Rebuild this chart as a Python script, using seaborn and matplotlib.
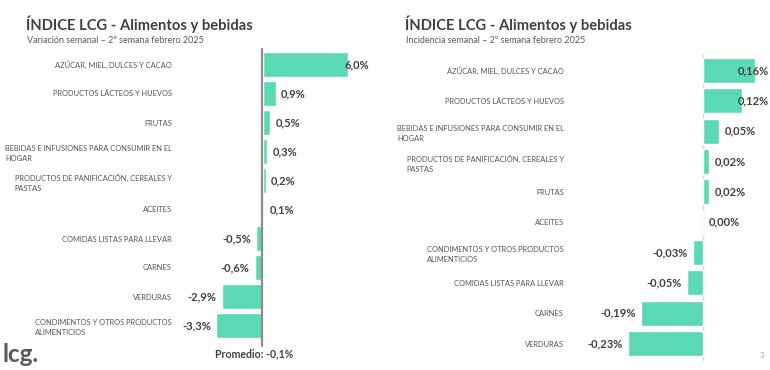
import matplotlib
matplotlib.use("Agg")
import matplotlib.pyplot as plt
import seaborn as sns
import pandas as pd

# ---------------- data ----------------
cats_left = [
    "AZÚCAR, MIEL, DULCES Y CACAO",
    "PRODUCTOS LÁCTEOS Y HUEVOS",
    "FRUTAS",
    "BEBIDAS E INFUSIONES PARA CONSUMIR EN EL\nHOGAR",
    "PRODUCTOS DE PANIFICACIÓN, CEREALES Y\nPASTAS",
    "ACEITES",
    "COMIDAS LISTAS PARA LLEVAR",
    "CARNES",
    "VERDURAS",
    "CONDIMENTOS Y OTROS PRODUCTOS\nALIMENTICIOS",
]
vals_left = [6.0, 0.9, 0.5, 0.3, 0.2, 0.1, -0.5, -0.6, -2.9, -3.3]
labels_left = ["6,0%", "0,9%", "0,5%", "0,3%", "0,2%", "0,1%", "-0,5%", "-0,6%", "-2,9%", "-3,3%"]
promedio = -0.1
promedio_label = "Promedio: -0,1%"

cats_right = [
    "AZÚCAR, MIEL, DULCES Y CACAO",
    "PRODUCTOS LÁCTEOS Y HUEVOS",
    "BEBIDAS E INFUSIONES PARA CONSUMIR EN EL\nHOGAR",
    "PRODUCTOS DE PANIFICACIÓN, CEREALES Y\nPASTAS",
    "FRUTAS",
    "ACEITES",
    "CONDIMENTOS Y OTROS PRODUCTOS\nALIMENTICIOS",
    "COMIDAS LISTAS PARA LLEVAR",
    "CARNES",
    "VERDURAS",
]
vals_right = [0.16, 0.12, 0.05, 0.02, 0.02, 0.00, -0.03, -0.05, -0.19, -0.23]
labels_right = ["0,16%", "0,12%", "0,05%", "0,02%", "0,02%", "0,00%", "-0,03%", "-0,05%", "-0,19%", "-0,23%"]

title_text = "ÍNDICE LCG - Alimentos y bebidas"
subtitle_left = "Variación semanal – 2º semana febrero 2025"
subtitle_right = "Incidencia semanal – 2º semana febrero 2025"

# ---------------- style ----------------
sns.set_theme(style="white")
plt.rcParams["font.family"] = ["Lato", "DejaVu Sans"]

BAR = "#5BD9B4"
DARK = "#404040"
MID = "#595959"

W, H = 770, 370
fig = plt.figure(figsize=(W / 100, H / 100), dpi=100)


def px_axes(x0, y0, x1, y1):
    return fig.add_axes([x0 / W, 1 - y1 / H, (x1 - x0) / W, (y1 - y0) / H])


axL = px_axes(176, 50, 370, 340)
axR = px_axes(568, 55.3, 770, 358.7)

dfL = pd.DataFrame({"cat": cats_left, "val": vals_left})
dfR = pd.DataFrame({"cat": cats_right, "val": vals_right})

sns.barplot(data=dfL, y="cat", x="val", orient="h", color=BAR, width=0.86,
            saturation=1, ax=axL, zorder=2)
sns.barplot(data=dfR, y="cat", x="val", orient="h", color=BAR, width=0.82,
            saturation=1, ax=axR, zorder=2)

axL.set_xlim(-6.14, 7.55)
axR.set_xlim(-0.415, 0.206)

for ax in (axL, axR):
    ax.set_ylim(9.5, -0.5)
    ax.set_xlabel("")
    ax.set_ylabel("")
    ax.set_xticks([])
    for s in ax.spines.values():
        s.set_visible(False)
    ax.tick_params(axis="y", length=0, pad=3, labelsize=5.4, labelcolor="#555555")
    ax.patch.set_alpha(0)
    for t in ax.get_yticklabels():
        t.set_multialignment("left")
        t.set_linespacing(1.5)

# promedio line (left) and zero line (right)
axL.axvline(promedio, ymin=-0.02, ymax=1.003, color="#8c8c8c", lw=1.6,
            zorder=3, clip_on=False)
axR.axvline(0, ymin=-0.004, ymax=1.0, color="#d9d9d9", lw=1.0, zorder=1,
            clip_on=False)

# value labels
fig.canvas.draw()
renderer = fig.canvas.get_renderer()


def add_values(ax, vals, labels, pad_pt=3.8):
    bb = ax.get_window_extent(renderer)
    for i, (v, lab) in enumerate(zip(vals, labels)):
        if v >= 0:
            t = ax.annotate(lab, (v, i), xytext=(pad_pt, 0), textcoords="offset points",
                            ha="left", va="center", fontsize=8.0, fontweight="bold",
                            color=DARK, annotation_clip=False, zorder=4)
        else:
            t = ax.annotate(lab, (v, i), xytext=(-pad_pt, 0), textcoords="offset points",
                            ha="right", va="center", fontsize=8.0, fontweight="bold",
                            color=DARK, annotation_clip=False, zorder=4)
        ext = t.get_window_extent(renderer)
        shift = 0
        if ext.x1 > bb.x1 - 1:
            shift = (bb.x1 - 1) - ext.x1
        elif ext.x0 < bb.x0:
            shift = bb.x0 - ext.x0
        if shift:
            t.xyann = (t.xyann[0] + shift * 72 / fig.dpi, t.xyann[1])


add_values(axL, vals_left, labels_left)
add_values(axR, vals_right, labels_right)

# titles
for x, sub in ((26, subtitle_left), (405, subtitle_right)):
    fig.text(x / W, 1 - 30 / H, title_text, fontsize=10.6, fontweight="bold",
             color=DARK, ha="left", va="baseline")
    fig.text(x / W + 0.001, 1 - 43 / H, sub, fontsize=6.5, color=MID,
             ha="left", va="baseline")

# promedio label
fig.text(254 / W, 1 - 354 / H, promedio_label, fontsize=7.6, fontweight="bold",
         color=DARK, ha="center", va="center")

# logo and page number
fig.text(2 / W, 1 - 362 / H, "lcg.", fontsize=17.5, fontweight="bold",
         color=MID, ha="left", va="baseline")
fig.text(762 / W, 1 - 356 / H, "3", fontsize=5.5, color="#a0a0a0",
         ha="center", va="center")

fig.savefig("out.png", dpi=100, facecolor="white")
